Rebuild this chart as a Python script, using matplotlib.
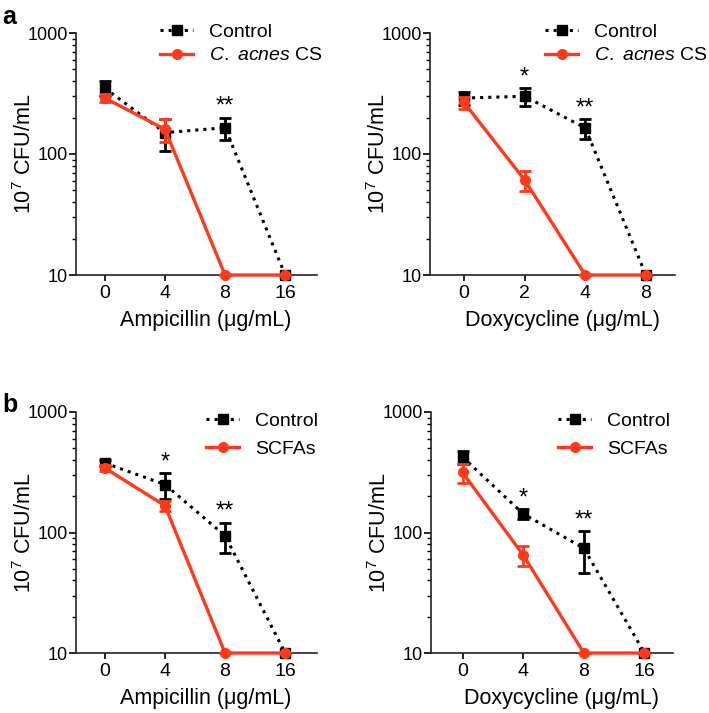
import matplotlib
matplotlib.use('Agg')
import matplotlib.pyplot as plt
from matplotlib.lines import Line2D
from matplotlib.ticker import LogLocator, NullFormatter, FixedLocator, FixedFormatter

plt.rcParams['font.family'] = ['Liberation Sans', 'DejaVu Sans']
plt.rcParams['mathtext.fontset'] = 'custom'
plt.rcParams['mathtext.rm'] = 'Liberation Sans'
plt.rcParams['mathtext.it'] = 'Liberation Sans:italic'

RED = '#ff3a1c'

# panel a, ampicillin
amp_a_ticks = ['0', '4', '8', '16']
amp_a_ctrl = [350, 150, 165, 10]
amp_a_ctrl_err = [50, 45, 35, 0]
amp_a_trt = [290, 160, 10, 10]
amp_a_trt_err = [22, 35, 0, 0]
amp_a_stars = ['', '', '**', '']

# panel a, doxycycline
dox_a_ticks = ['0', '2', '4', '8']
dox_a_ctrl = [290, 300, 164, 10]
dox_a_ctrl_err = [35, 50, 30, 0]
dox_a_trt = [267, 61, 10, 10]
dox_a_trt_err = [30, 12, 0, 0]
dox_a_stars = ['', '*', '**', '']

# panel b, ampicillin
amp_b_ticks = ['0', '4', '8', '16']
amp_b_ctrl = [377, 250, 94, 10]
amp_b_ctrl_err = [22, 60, 27, 0]
amp_b_trt = [343, 167, 10, 10]
amp_b_trt_err = [22, 15, 0, 0]
amp_b_stars = ['', '*', '**', '']

# panel b, doxycycline
dox_b_ticks = ['0', '4', '8', '16']
dox_b_ctrl = [423, 143, 74, 10]
dox_b_ctrl_err = [55, 13, 28, 0]
dox_b_trt = [315, 65, 10, 10]
dox_b_trt_err = [57, 12, 0, 0]
dox_b_stars = ['', '*', '**', '']

W, H = 709, 713
fig = plt.figure(figsize=(W / 100, H / 100), dpi=100)


def px_axes(x0, x1, ytop, ybot):
    return fig.add_axes([x0 / W, 1 - ybot / H, (x1 - x0) / W, (ybot - ytop) / H])


def draw(ax, ticks, ctrl, ctrl_err, trt, trt_err, stars, xlabel, trt_label,
         xlim, leg_x, leg_y, leg_space):
    x = list(range(len(ticks)))
    ax.errorbar(x, ctrl, yerr=ctrl_err, color='black', ls=':', lw=2.2,
                marker='s', ms=6.5, capsize=4.5, capthick=2, elinewidth=2,
                clip_on=False, zorder=3)
    ax.errorbar(x, trt, yerr=trt_err, color=RED, ls='-', lw=2.4,
                marker='o', ms=7, capsize=4.5, capthick=2, elinewidth=2,
                clip_on=False, zorder=4)
    for xi, s, v, e in zip(x, stars, ctrl, ctrl_err):
        if s:
            ax.annotate(s, (xi, v + e), xytext=(0, 0), textcoords='offset points',
                        ha='center', va='bottom', fontsize=17)
    ax.set_yscale('log')
    ax.set_ylim(10, 1000)
    ax.set_xlim(*xlim)
    ax.yaxis.set_major_locator(FixedLocator([10, 100, 1000]))
    ax.yaxis.set_major_formatter(FixedFormatter(['10', '100', '1000']))
    ax.yaxis.set_minor_locator(LogLocator(base=10, subs=range(2, 10)))
    ax.yaxis.set_minor_formatter(NullFormatter())
    ax.set_xticks(x)
    ax.set_xticklabels(ticks)
    for s in ['top', 'right']:
        ax.spines[s].set_visible(False)
    for s in ['left', 'bottom']:
        ax.spines[s].set_linewidth(1.2)
        ax.spines[s].set_color('#222222')
    ax.tick_params(axis='y', which='major', length=5, width=1.2, pad=1, labelsize=13)
    ax.tick_params(axis='y', which='minor', length=3, width=1.0)
    ax.tick_params(axis='x', length=4, width=1.2, pad=3, labelsize=14)
    ax.set_xlabel(xlabel, fontsize=15.5)
    ax.xaxis.set_label_coords(0.54, -0.145)
    ax.set_ylabel(r'10$^7$ CFU/mL', fontsize=15.5)
    ax.yaxis.set_label_coords(-0.165, 0.5)
    handles = [
        Line2D([], [], color='black', ls=':', lw=2.2, marker='s', ms=6.5),
        Line2D([], [], color=RED, ls='-', lw=2.4, marker='o', ms=7),
    ]
    ax.legend(handles, ['Control', trt_label], loc='upper left',
              bbox_to_anchor=(leg_x, leg_y), frameon=False,
              fontsize=14, handlelength=1.7, handletextpad=0.8,
              labelspacing=leg_space, borderpad=0, borderaxespad=0)


ax1 = px_axes(76, 317, 33, 275)
draw(ax1, amp_a_ticks, amp_a_ctrl, amp_a_ctrl_err, amp_a_trt, amp_a_trt_err,
     amp_a_stars, 'Ampicillin (μg/mL)', r'$\it{C.}$ $\it{acnes}$ CS',
     (-0.48, 3.53), 0.35, 1.04, 0.3)
ax2 = px_axes(430, 675, 33, 275)
draw(ax2, dox_a_ticks, dox_a_ctrl, dox_a_ctrl_err, dox_a_trt, dox_a_trt_err,
     dox_a_stars, 'Doxycycline (μg/mL)', r'$\it{C.}$ $\it{acnes}$ CS',
     (-0.56, 3.48), 0.47, 1.04, 0.3)
ax3 = px_axes(76, 317, 412, 653)
draw(ax3, amp_b_ticks, amp_b_ctrl, amp_b_ctrl_err, amp_b_trt, amp_b_trt_err,
     amp_b_stars, 'Ampicillin (μg/mL)', 'SCFAs',
     (-0.48, 3.53), 0.54, 1.0, 0.55)
ax4 = px_axes(431, 673, 412, 653)
draw(ax4, dox_b_ticks, dox_b_ctrl, dox_b_ctrl_err, dox_b_trt, dox_b_trt_err,
     dox_b_stars, 'Doxycycline (μg/mL)', 'SCFAs',
     (-0.52, 3.47), 0.525, 1.0, 0.55)

fig.text(2 / W, 1 - 17 / H, 'a', fontsize=18, fontweight='bold', va='center')
fig.text(2 / W, 1 - 405 / H, 'b', fontsize=18, fontweight='bold', va='center')

fig.savefig('out.png', dpi=100)
